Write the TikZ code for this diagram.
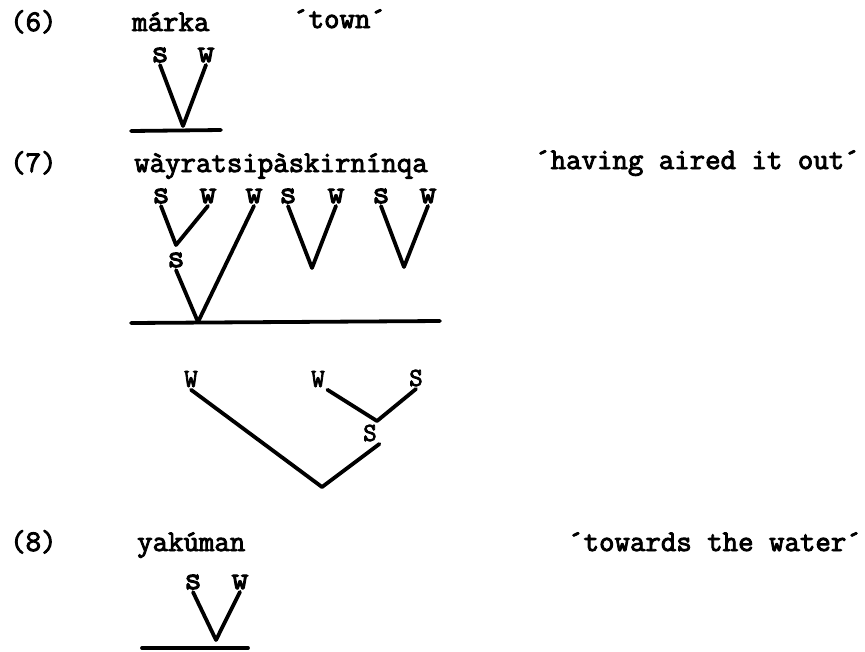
\documentclass[tikz,border=0pt]{standalone}
\usepackage{fontspec}
\newfontfamily\tw{Latin Modern Mono}[FakeBold=3]
\begin{document}
\begin{tikzpicture}[x=1pt,y=-1pt,
  txt/.style={anchor=base west,inner sep=0pt,font=\tw\fontsize{30}{31}\selectfont},
  lab/.style={inner sep=2.5pt,font=\tw\fontsize{33}{34}\selectfont},
  capl/.style={inner sep=2.5pt,font=\tw\fontsize{26}{27}\selectfont},
  br/.style={line width=3.8pt,line cap=round,line join=round}]
\useasboundingbox (0,0) rectangle (865,651);
% ---------- (6)
\node[txt] (n6) at (10,31) {(6)};
\node[txt] (w6) at (132,31) {márka};
\node[txt] (g6) at (293,28) {´town´};
\node[lab] (s6a) at (160,55) {s};
\node[lab] (w6a) at (206,55) {w};
\coordinate (v6) at (183,126);
\coordinate (l6a) at (131,131);
\coordinate (l6b) at (221,130);
\draw[br] (s6a.south) -- (v6) -- (w6a.south);
\draw[br] (l6a) -- (l6b);
% ---------- (7)
\node[txt] (n7) at (10,172) {(7)};
\node[txt] (w7) at (134,172) {wàyratsipàskirnínqa};
\node[txt] (g7) at (535,169) {´having aired it out´};
\node[lab] (a1) at (161,196) {s};
\node[lab] (a2) at (208,196) {w};
\node[lab] (a3) at (254,196) {w};
\node[lab] (a4) at (288,196) {s};
\node[lab] (a5) at (336,196) {w};
\node[lab] (a6) at (381,196) {s};
\node[lab] (a7) at (428,196) {w};
\coordinate (v71) at (176,245);
\node[lab] (m7) at (176,260) {s};
\coordinate (v72) at (198,322);
\coordinate (v73) at (312,268);
\coordinate (v74) at (404,267);
\draw[br] (a1.south) -- (v71) -- (a2.south);
\draw[br] (m7.south) -- (v72) -- (a3.south);
\draw[br] (a4.south) -- (v73) -- (a5.south);
\draw[br] (a6.south) -- (v74) -- (a7.south);
\coordinate (l7a) at (131,323);
\coordinate (l7b) at (440,321);
\draw[br] (l7a) -- (l7b);
% lower tree
\node[capl] (b1) at (191,379) {W};
\node[capl] (b2) at (318,379) {W};
\node[capl] (b3) at (416,378) {S};
\node[capl] (bm) at (370,433) {S};
\coordinate (u1) at (377,421);
\coordinate (u2) at (322,487);
\draw[br] (b2.south east) -- (u1) -- (b3.south);
\draw[br] (b1.south) -- (u2) -- (bm.south east);
% ---------- (8)
\node[txt] (n8) at (10,551) {(8)};
\node[txt] (w8) at (137,551) {yakúman};
\node[txt] (g8) at (568,551) {´towards the water´};
\node[lab] (s8a) at (193,582) {s};
\node[lab] (w8a) at (240,582) {w};
\coordinate (v8) at (216,640);
\coordinate (l8a) at (142,648);
\coordinate (l8b) at (248,648);
\draw[br] (s8a.south) -- (v8) -- (w8a.south);
\draw[br] (l8a) -- (l8b);
\end{tikzpicture}
\end{document}
